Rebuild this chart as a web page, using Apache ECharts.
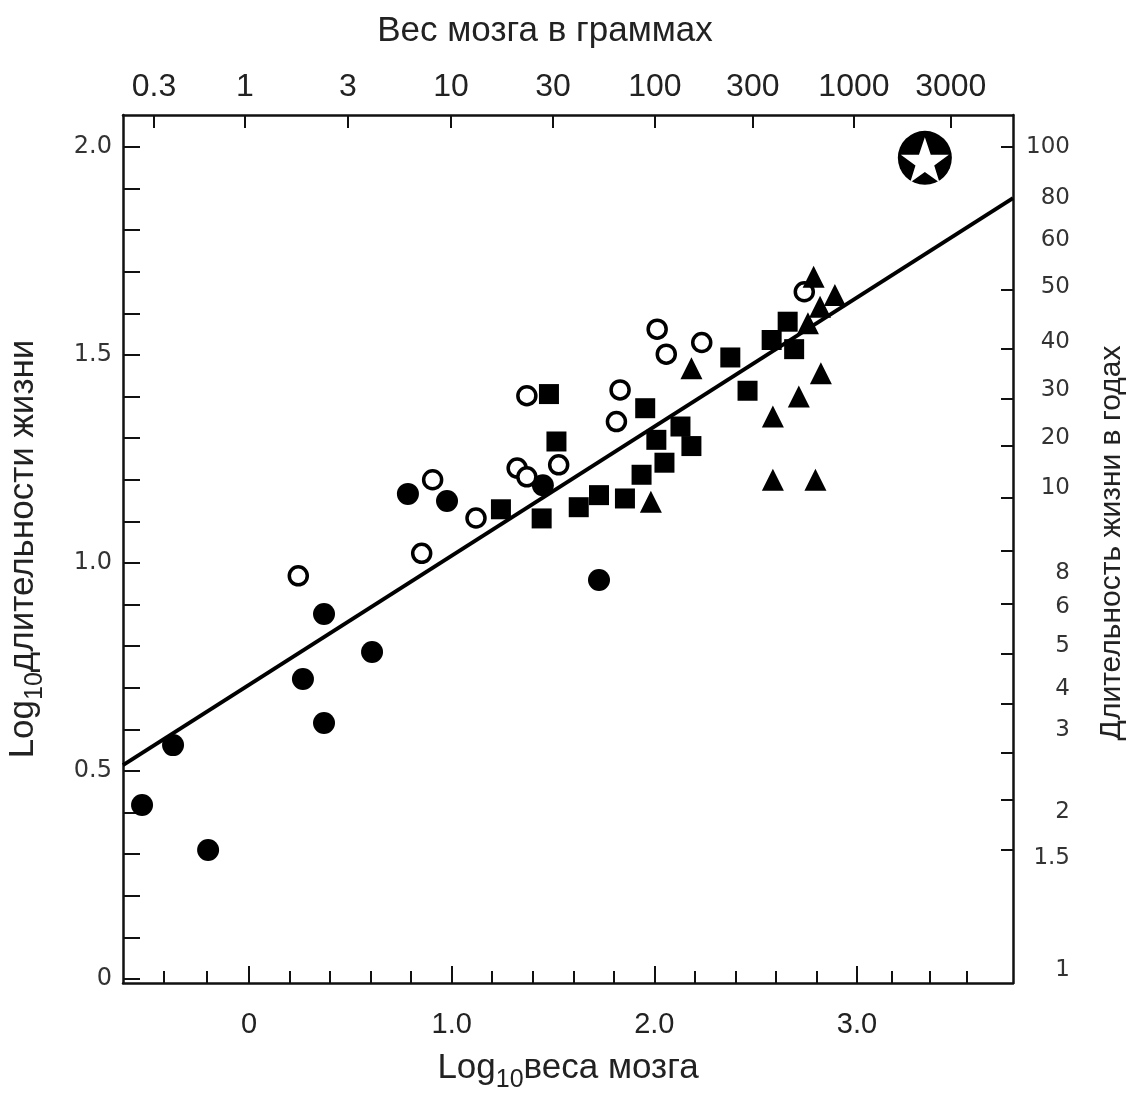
<!DOCTYPE html>
<html>
<head>
<meta charset="utf-8">
<script src="https://cdn.jsdelivr.net/npm/echarts@6/dist/echarts.min.js"></script>
<style>
  html, body { margin: 0; padding: 0; background: #fff; }
  #chart { width: 1128px; height: 1093px; }
</style>
</head>
<body>
<div id="chart"></div>
<script>
// точки: [log10 веса мозга, log10 длительности жизни]
const filledCircles = [
  [-0.528, 0.418], [-0.375, 0.562], [-0.202, 0.310], [0.266, 0.721],
  [0.370, 0.877], [0.370, 0.615], [0.607, 0.786], [0.784, 1.166],
  [0.977, 1.149], [1.450, 1.187], [1.727, 0.959]
]
const openCircles = [
  [0.243, 0.969], [0.852, 1.023], [0.906, 1.200], [1.120, 1.108],
  [1.323, 1.228], [1.371, 1.207], [1.528, 1.236], [1.371, 1.402],
  [1.813, 1.340], [1.831, 1.416], [2.014, 1.562], [2.059, 1.502],
  [2.234, 1.530], [2.740, 1.652]
]
const squares = [
  [1.480, 1.406], [1.955, 1.372], [1.517, 1.292], [1.243, 1.129],
  [1.444, 1.107], [1.627, 1.134], [1.727, 1.163], [1.855, 1.155],
  [1.937, 1.212], [2.050, 1.241], [2.010, 1.296], [2.129, 1.328],
  [2.183, 1.281], [2.375, 1.494], [2.460, 1.414], [2.579, 1.536],
  [2.658, 1.580], [2.690, 1.514]
]
const triangles = [
  [2.183, 1.468], [1.983, 1.147], [2.585, 1.352], [2.713, 1.400],
  [2.822, 1.456], [2.585, 1.200], [2.795, 1.200], [2.786, 1.688],
  [2.891, 1.644], [2.818, 1.616], [2.758, 1.576]
]
// человек
const human = [[3.335, 1.974]]
// линия регрессии (концы на рамке)
const fitLine = [[-0.622, 0.514], [3.77, 1.877]]

// оси
const bottomMajor = [0, 1, 2, 3]
const bottomLabels = ['0', '1.0', '2.0', '3.0']
const bottomMinor = [-0.42, -0.21, 0.2, 0.4, 0.6, 0.8, 1.2, 1.4, 1.6, 1.8,
  2.2, 2.4, 2.6, 2.8, 3.17, 3.36, 3.54]
const topTicks = [-0.469, -0.02, 0.488, 0.997, 1.5, 2.003, 2.486, 2.985, 3.463]
const topLabels = ['0.3', '1', '3', '10', '30', '100', '300', '1000', '3000']
const leftTicks = [0, 0.1, 0.2, 0.3, 0.4, 0.5, 0.6, 0.7, 0.8, 0.9, 1.0,
  1.1, 1.2, 1.3, 1.4, 1.5, 1.6, 1.7, 1.8, 1.9, 2.0]
const leftLabelPos = [0, 0.5, 1.0, 1.5, 2.0]
const leftLabels = ['0', '0.5', '1.0', '1.5', '2.0']
const rightLabelPos = [2.0, 1.877, 1.776, 1.663, 1.531, 1.416, 1.300, 1.180,
  0.976, 0.894, 0.800, 0.697, 0.599, 0.401, 0.291, 0.022]
const rightLabels = ['100', '80', '60', '50', '40', '30', '20', '10',
  '8', '6', '5', '4', '3', '2', '1.5', '1']
const rightTicks = [2.0, 1.656, 1.514, 1.394, 1.281, 1.156, 1.029, 0.901,
  0.781, 0.661, 0.543, 0.430, 0.310]

const X_MIN = -0.622
const X_MAX = 3.77
const Y_MIN = -0.01
const Y_MAX = 2.077

const textFont = "'Liberation Sans', Arial, sans-serif"
const numFont = "'DejaVu Sans', Verdana, sans-serif"
const ink = '#111'

const pick = (pos, labels) => (v) => {
  const i = pos.findIndex(p => Math.abs(p - v) < 1e-6)
  return i >= 0 ? labels[i] : ''
}

const chart = echarts.init(document.getElementById('chart'))

const subStyle = {fontSize: 25, verticalAlign: 'bottom', padding: [24, 0, 0, 0], fontFamily: textFont, color: '#222'}

const option = {
  backgroundColor: '#fff',
  animation: false,
  grid: {left: 123, right: 115, top: 115, bottom: 110, containLabel: false, outerBoundsMode: 'none'},
  xAxis: [
    {
      // нижняя ось, большие деления
      type: 'value', position: 'bottom', min: X_MIN, max: X_MAX,
      splitLine: {show: false},
      axisLine: {onZero: false, lineStyle: {color: ink, width: 2.5}},
      axisTick: {inside: true, length: 17, customValues: bottomMajor, lineStyle: {color: ink, width: 2}},
      axisLabel: {
        customValues: bottomMajor, formatter: pick(bottomMajor, bottomLabels),
        margin: 27, fontSize: 29, color: '#222', fontFamily: textFont
      },
      name: 'Log{s|10}веса мозга',
      nameLocation: 'middle', nameGap: 61,
      nameTextStyle: {fontSize: 35, color: '#222', fontFamily: textFont, rich: {s: subStyle}}
    },
    {
      // нижняя ось, мелкие деления
      type: 'value', position: 'bottom', min: X_MIN, max: X_MAX,
      splitLine: {show: false},
      axisLine: {show: false, onZero: false},
      axisTick: {inside: true, length: 12, customValues: bottomMinor, lineStyle: {color: ink, width: 2}},
      axisLabel: {show: false}
    },
    {
      // верхняя ось, граммы
      type: 'value', position: 'top', min: X_MIN, max: X_MAX,
      splitLine: {show: false},
      axisLine: {onZero: false, lineStyle: {color: ink, width: 2.5}},
      axisTick: {inside: true, length: 13, customValues: topTicks, lineStyle: {color: ink, width: 2}},
      axisLabel: {
        customValues: topTicks, formatter: pick(topTicks, topLabels),
        margin: 12, fontSize: 32, color: '#222', fontFamily: textFont
      },
      name: 'Вес мозга в граммах',
      nameLocation: 'middle', nameGap: 66,
      nameTextStyle: {fontSize: 35, color: '#222', fontFamily: textFont, padding: [0, 46, 0, 0]}
    }
  ],
  yAxis: [
    {
      type: 'value', position: 'left', min: Y_MIN, max: Y_MAX,
      splitLine: {show: false},
      axisLine: {onZero: false, lineStyle: {color: ink, width: 2.5}},
      axisTick: {inside: true, length: 17, customValues: leftTicks, lineStyle: {color: ink, width: 2}},
      axisLabel: {
        customValues: leftLabelPos, formatter: pick(leftLabelPos, leftLabels),
        margin: 11, fontSize: 24, color: '#333', fontFamily: numFont
      },
      name: 'Log{s|10}длительности жизни',
      nameLocation: 'middle', nameGap: 75, nameRotate: 90,
      nameTextStyle: {fontSize: 35, color: '#222', fontFamily: textFont, rich: {s: subStyle}}
    },
    {
      type: 'value', position: 'right', min: Y_MIN, max: Y_MAX,
      splitLine: {show: false},
      axisLine: {onZero: false, lineStyle: {color: ink, width: 2.5}},
      axisTick: {inside: true, length: 12, customValues: rightTicks, lineStyle: {color: ink, width: 2}},
      axisLabel: {
        customValues: rightLabelPos, formatter: pick(rightLabelPos, rightLabels),
        margin: 57, align: 'right', fontSize: 23, color: '#333', fontFamily: numFont
      },
      name: 'Длительность жизни в годах',
      nameLocation: 'middle', nameGap: 84, nameRotate: 90,
      nameTextStyle: {fontSize: 30, color: '#222', fontFamily: textFont, padding: [0, 0, 0, 12]}
    }
  ],
  series: [
    {
      type: 'line', data: fitLine, symbol: 'none', z: 1,
      lineStyle: {color: '#000', width: 4}
    },
    {
      type: 'scatter', data: filledCircles, symbol: 'circle', symbolSize: 22, z: 3,
      itemStyle: {color: '#000', opacity: 1}
    },
    {
      type: 'scatter', data: openCircles, symbol: 'circle', symbolSize: 18, z: 3,
      itemStyle: {color: '#fff', borderColor: '#000', borderWidth: 3.5, opacity: 1}
    },
    {
      type: 'scatter', data: squares, symbol: 'rect', symbolSize: 20, z: 3,
      itemStyle: {color: '#000', opacity: 1}
    },
    {
      type: 'scatter', data: triangles, symbol: 'triangle', symbolSize: 22, z: 3,
      itemStyle: {color: '#000', opacity: 1}
    },
    {
      type: 'scatter', data: human, symbol: 'circle', symbolSize: 54, z: 3,
      itemStyle: {color: '#000', opacity: 1}
    },
    {
      type: 'scatter', data: human, z: 4,
      symbol: 'path://M50,0 L61.8,35.1 L98.1,35.1 L68.8,56.8 L79.4,91 L50,70 L20.6,91 L31.2,56.8 L1.9,35.1 L38.2,35.1 Z',
      symbolSize: 48, symbolKeepAspect: true, symbolOffset: [0, 2],
      itemStyle: {color: '#fff', opacity: 1}
    }
  ]
}

chart.setOption(option)
</script>
</body>
</html>
